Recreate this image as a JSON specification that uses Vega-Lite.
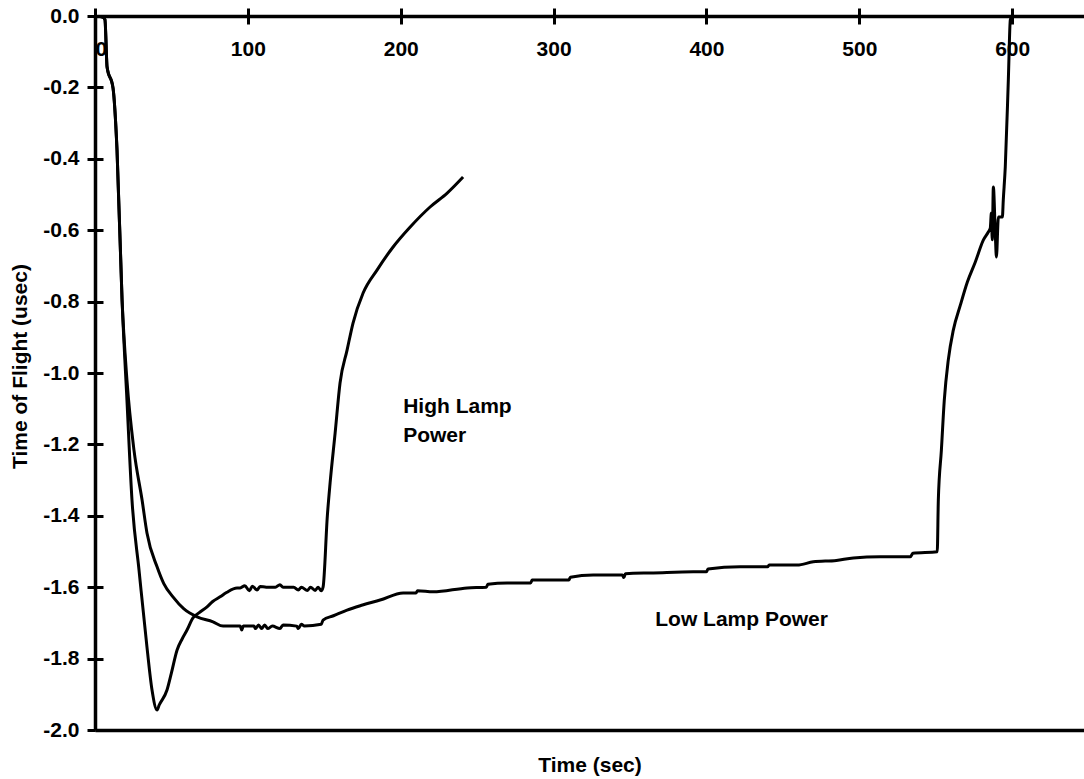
{
  "$schema": "https://vega.github.io/schema/vega-lite/v6.json",
  "width": 989,
  "height": 714,
  "autosize": {"type": "none"},
  "padding": {"left": 95, "top": 16, "right": 0, "bottom": 49},
  "config": {
    "view": {"stroke": null},
    "font": "Liberation Sans",
    "axis": {
      "labelFont": "Liberation Sans", "labelFontWeight": "bold", "labelFontSize": 21, "labelColor": "black",
      "titleFont": "Liberation Sans", "titleFontWeight": "bold", "titleFontSize": 21, "titleColor": "black",
      "domainColor": "black", "domainWidth": 3.5, "tickColor": "black", "tickWidth": 3, "tickSize": 8,
      "grid": false, "labelPadding": 8
    },
    "text": {"font": "Liberation Sans", "fontWeight": "bold", "fontSize": 21, "color": "black"}
  },
  "datasets": {
    "high": [
      {"t": 1.5, "v": 0}, {"t": 5, "v": -0.003}, {"t": 6.5, "v": -0.01}, {"t": 7.9, "v": -0.143},
      {"t": 11.8, "v": -0.202}, {"t": 14.4, "v": -0.375}, {"t": 17.7, "v": -0.795}, {"t": 20.9, "v": -1.076},
      {"t": 24.2, "v": -1.356}, {"t": 28.8, "v": -1.552}, {"t": 34.0, "v": -1.768}, {"t": 37.3, "v": -1.888},
      {"t": 40.6, "v": -1.944}, {"t": 42, "v": -1.93}, {"t": 47.1, "v": -1.888}, {"t": 50, "v": -1.84},
      {"t": 53.7, "v": -1.776}, {"t": 57, "v": -1.745}, {"t": 60.2, "v": -1.72}, {"t": 64.1, "v": -1.686},
      {"t": 68, "v": -1.672}, {"t": 73.3, "v": -1.655}, {"t": 77, "v": -1.64}, {"t": 81.8, "v": -1.627},
      {"t": 86, "v": -1.615}, {"t": 92.9, "v": -1.602}, {"t": 95, "v": -1.602}, {"t": 98, "v": -1.596},
      {"t": 101, "v": -1.61}, {"t": 103, "v": -1.597}, {"t": 106, "v": -1.608}, {"t": 108, "v": -1.598},
      {"t": 112, "v": -1.6}, {"t": 118, "v": -1.6}, {"t": 121, "v": -1.593}, {"t": 123, "v": -1.6},
      {"t": 130, "v": -1.6}, {"t": 133, "v": -1.608}, {"t": 135, "v": -1.6}, {"t": 139, "v": -1.609},
      {"t": 141, "v": -1.6}, {"t": 144, "v": -1.609}, {"t": 146, "v": -1.6}, {"t": 148, "v": -1.61},
      {"t": 149.2, "v": -1.6}, {"t": 152, "v": -1.4}, {"t": 153.8, "v": -1.308}, {"t": 157.1, "v": -1.168},
      {"t": 160.3, "v": -1.028}, {"t": 164.9, "v": -0.936}, {"t": 168.8, "v": -0.86}, {"t": 175.4, "v": -0.776},
      {"t": 184.6, "v": -0.711}, {"t": 195.0, "v": -0.647}, {"t": 206.2, "v": -0.591}, {"t": 219.2, "v": -0.535},
      {"t": 230.4, "v": -0.496}, {"t": 240.8, "v": -0.451}
    ],
    "low": [
      {"t": 1.5, "v": 0}, {"t": 5, "v": -0.003}, {"t": 6.5, "v": -0.01}, {"t": 7.9, "v": -0.143},
      {"t": 11.8, "v": -0.202}, {"t": 14.4, "v": -0.375}, {"t": 17.7, "v": -0.795}, {"t": 20.9, "v": -1.02},
      {"t": 25.5, "v": -1.216}, {"t": 30.8, "v": -1.356}, {"t": 34.0, "v": -1.448}, {"t": 40.6, "v": -1.543},
      {"t": 45, "v": -1.59}, {"t": 51.0, "v": -1.627}, {"t": 58, "v": -1.66}, {"t": 66.8, "v": -1.683},
      {"t": 77.2, "v": -1.697}, {"t": 83.8, "v": -1.709}, {"t": 95, "v": -1.709}, {"t": 96, "v": -1.72},
      {"t": 97, "v": -1.709}, {"t": 104, "v": -1.709}, {"t": 105, "v": -1.716}, {"t": 107, "v": -1.706},
      {"t": 109, "v": -1.716}, {"t": 111, "v": -1.706}, {"t": 113, "v": -1.716}, {"t": 116, "v": -1.709},
      {"t": 121, "v": -1.716}, {"t": 123, "v": -1.706}, {"t": 132, "v": -1.709}, {"t": 133, "v": -1.716},
      {"t": 135, "v": -1.704}, {"t": 137, "v": -1.709}, {"t": 148, "v": -1.704}, {"t": 149.2, "v": -1.692},
      {"t": 156, "v": -1.68}, {"t": 164.9, "v": -1.664}, {"t": 175, "v": -1.65}, {"t": 186.5, "v": -1.636},
      {"t": 201.6, "v": -1.616}, {"t": 210, "v": -1.616}, {"t": 211, "v": -1.61}, {"t": 221.2, "v": -1.613},
      {"t": 243.5, "v": -1.602}, {"t": 256, "v": -1.6}, {"t": 257, "v": -1.592}, {"t": 269.6, "v": -1.588},
      {"t": 285, "v": -1.588}, {"t": 286, "v": -1.58}, {"t": 304.3, "v": -1.58}, {"t": 310, "v": -1.58},
      {"t": 311, "v": -1.572}, {"t": 325.9, "v": -1.566}, {"t": 345, "v": -1.566}, {"t": 346, "v": -1.573},
      {"t": 347, "v": -1.562}, {"t": 365.2, "v": -1.56}, {"t": 391.4, "v": -1.557}, {"t": 400, "v": -1.557},
      {"t": 401, "v": -1.549}, {"t": 422.1, "v": -1.543}, {"t": 440, "v": -1.543}, {"t": 441, "v": -1.538},
      {"t": 459.4, "v": -1.538}, {"t": 469.9, "v": -1.529}, {"t": 485, "v": -1.525}, {"t": 496.1, "v": -1.518},
      {"t": 513.7, "v": -1.515}, {"t": 533.4, "v": -1.515}, {"t": 535, "v": -1.505}, {"t": 551.0, "v": -1.501},
      {"t": 551.7, "v": -1.356}, {"t": 553.7, "v": -1.216}, {"t": 555.6, "v": -1.076}, {"t": 558.2, "v": -0.964},
      {"t": 561.5, "v": -0.88}, {"t": 566.1, "v": -0.81}, {"t": 570.7, "v": -0.745}, {"t": 575.9, "v": -0.689},
      {"t": 581.2, "v": -0.627}, {"t": 584.4, "v": -0.605}, {"t": 585.7, "v": -0.594}, {"t": 586.4, "v": -0.552},
      {"t": 587.0, "v": -0.627}, {"t": 587.7, "v": -0.479}, {"t": 589.0, "v": -0.613}, {"t": 589.7, "v": -0.675},
      {"t": 591.0, "v": -0.563}, {"t": 593.6, "v": -0.563}, {"t": 594.2, "v": -0.515}, {"t": 595.5, "v": -0.423},
      {"t": 597.5, "v": -0.179}, {"t": 598.8, "v": -0.011}, {"t": 600.1, "v": 0}
    ],
    "labels": [
      {"t": 201.6, "v": -1.112, "label": "High Lamp"},
      {"t": 201.6, "v": -1.193, "label": "Power"},
      {"t": 366.5, "v": -1.709, "label": "Low Lamp Power"}
    ]
  },
  "layer": [
    {
      "data": {"name": "high"},
      "mark": {"type": "line", "color": "black", "strokeWidth": 3, "clip": true, "interpolate": "monotone"},
      "encoding": {
        "x": {"field": "t", "type": "quantitative", "scale": {"domain": [0, 647], "nice": false, "zero": false},
              "axis": {"orient": "top", "values": [0, 100, 200, 300, 400, 500, 600], "labels": false, "title": null}},
        "y": {"field": "v", "type": "quantitative", "scale": {"domain": [-2, 0], "nice": false, "zero": false},
              "axis": {"orient": "left", "values": [-2, -1.8, -1.6, -1.4, -1.2, -1, -0.8, -0.6, -0.4, -0.2, 0],
                       "labelExpr": "replace(format(datum.value, '.1f'), '\u2212', '-')",
                       "title": "Time of Flight (usec)", "titleX": -75, "titleY": 350, "titleAngle": -90,
                       "titleBaseline": "middle", "titleAlign": "center"}}
      }
    },
    {
      "data": {"name": "low"},
      "mark": {"type": "line", "color": "black", "strokeWidth": 3, "clip": true, "interpolate": "monotone"},
      "encoding": {
        "x": {"field": "t", "type": "quantitative",
              "axis": {"orient": "bottom", "offset": -714, "values": [0, 100, 200, 300, 400, 500, 600],
                       "format": "d", "domain": false, "labelPadding": 14, "title": null}},
        "y": {"field": "v", "type": "quantitative",
              "axis": {"orient": "right", "offset": -989, "values": [-2, -1.8, -1.6, -1.4, -1.2, -1, -0.8, -0.6, -0.4, -0.2, 0],
                       "labels": false, "domain": false, "title": null}}
      }
    },
    {
      "data": {"name": "labels"},
      "mark": {"type": "text", "align": "left", "baseline": "alphabetic"},
      "encoding": {
        "x": {"field": "t", "type": "quantitative",
              "axis": {"orient": "bottom", "labels": false, "ticks": false, "title": "Time (sec)", "titlePadding": 24}},
        "y": {"field": "v", "type": "quantitative", "axis": null},
        "text": {"field": "label", "type": "nominal"}
      }
    }
  ],
  "resolve": {"axis": {"x": "independent", "y": "independent"}}
}
